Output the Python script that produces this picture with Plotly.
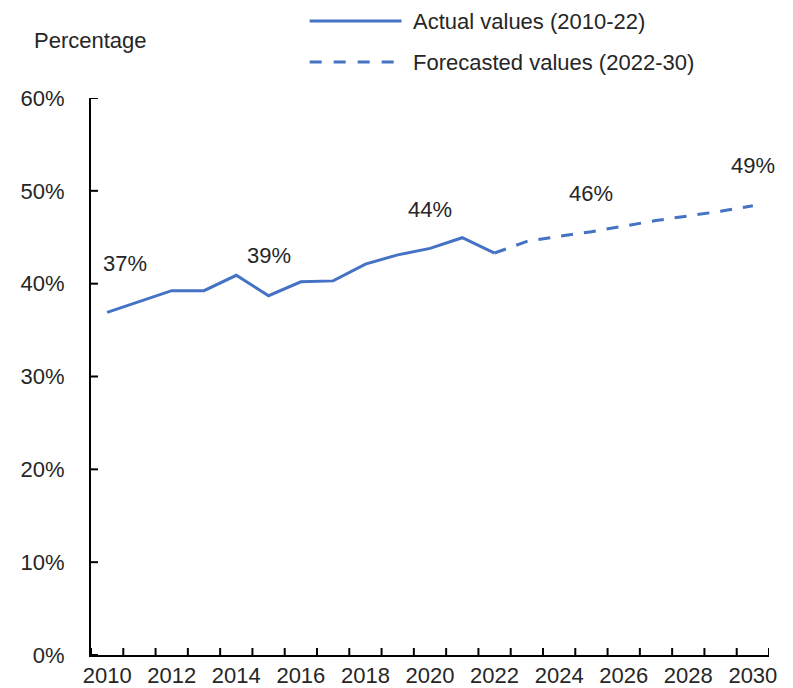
import plotly.graph_objects as go

# ---- data ----
actual_years = list(range(2010, 2023))
actual_values = [36.9, 38.1, 39.25, 39.25, 40.9, 38.7, 40.2, 40.3, 42.1, 43.1, 43.8, 44.95, 43.3]

forecast_years = list(range(2022, 2031))
forecast_values = [43.3, 44.55, 45.1, 45.6, 46.2, 46.8, 47.3, 47.8, 48.4]

label_years = [2010, 2015, 2020, 2025, 2030]
label_texts = ["37%", "39%", "44%", "46%", "49%"]

y_ticks = [0, 10, 20, 30, 40, 50, 60]
y_tick_labels = ["0%", "10%", "20%", "30%", "40%", "50%", "60%"]
x_first_label, x_label_step = 2010, 2

legend_names = ["Actual values (2010-22)", "Forecasted values (2022-30)"]
y_title = "Percentage"

# label placement (pixels)
label_yshift = [49, 40, 39, 38, 40]
label_xshift = [18, 0, 0, 0, 0]

BLUE = "#4472C4"
TXT = "#262626"
FONT = "Liberation Sans, Arial, sans-serif"
FS = 22

all_years = sorted(set(actual_years) | set(forecast_years))
X_RANGE = [all_years[0] - 0.5, all_years[-1] + 0.5]
Y_RANGE = [y_ticks[0], y_ticks[-1]]

W, H = 785, 680
M = dict(l=83, r=24, t=90, b=33)
plot_w = W - M["l"] - M["r"]
plot_h = H - M["t"] - M["b"]
TICK_PX = 7
tick_dy = TICK_PX * (Y_RANGE[1] - Y_RANGE[0]) / plot_h
tick_dx = TICK_PX * (X_RANGE[1] - X_RANGE[0]) / plot_w

fig = go.Figure()
fig.add_trace(go.Scatter(x=actual_years, y=actual_values, mode="lines",
                         line=dict(color=BLUE, width=3), name=legend_names[0],
                         showlegend=False))
fig.add_trace(go.Scatter(x=forecast_years, y=forecast_values, mode="lines",
                         line=dict(color=BLUE, width=3, dash="12px,11px"),
                         name=legend_names[1], showlegend=False))

lookup = dict(zip(actual_years, actual_values))
lookup.update(dict(zip(forecast_years, forecast_values)))

annotations = []
for yr, txt, ys, xs in zip(label_years, label_texts, label_yshift, label_xshift):
    annotations.append(dict(x=yr, y=lookup[yr], xref="x", yref="y", text=txt,
                            showarrow=False, yshift=ys, xshift=xs,
                            font=dict(family=FONT, size=FS, color=TXT)))

# y-axis title
annotations.append(dict(x=-0.087, y=1.104, xref="paper", yref="paper", text=y_title,
                        showarrow=False, xanchor="left", yanchor="middle",
                        font=dict(family=FONT, size=FS, color=TXT)))

shapes = []
# inside tick marks: x at category boundaries, y at value ticks
for b in [yr - 0.5 for yr in all_years] + [all_years[-1] + 0.5]:
    shapes.append(dict(type="line", xref="x", yref="y", x0=b, x1=b,
                       y0=Y_RANGE[0], y1=Y_RANGE[0] + tick_dy,
                       line=dict(color="black", width=2)))
for v in y_ticks:
    shapes.append(dict(type="line", xref="x", yref="y", x0=X_RANGE[0],
                       x1=X_RANGE[0] + tick_dx, y0=v, y1=v,
                       line=dict(color="black", width=2)))

# custom legend
leg_rows = [1.1382, 1.0646]
for i, (name, yrow) in enumerate(zip(legend_names, leg_rows)):
    shapes.append(dict(type="line", xref="paper", yref="paper",
                       x0=0.3225, x1=0.458, y0=yrow, y1=yrow,
                       line=dict(color=BLUE, width=3,
                                 dash="solid" if i == 0 else "12px,12px")))
    annotations.append(dict(x=0.4723, y=yrow, xref="paper", yref="paper", text=name,
                            showarrow=False, xanchor="left", yanchor="middle",
                            font=dict(family=FONT, size=FS, color=TXT)))

fig.update_layout(
    width=W, height=H,
    margin=dict(**M, autoexpand=False),
    paper_bgcolor="white", plot_bgcolor="white",
    font=dict(family=FONT, size=FS, color=TXT),
    annotations=annotations, shapes=shapes,
    showlegend=False,
)
fig.update_xaxes(range=X_RANGE, tickmode="linear", tick0=x_first_label,
                 dtick=x_label_step, tickformat="d", ticks="",
                 showgrid=False, zeroline=False, automargin=False,
                 showline=True, linecolor="black", linewidth=2,
                 tickfont=dict(family=FONT, size=FS, color=TXT))
fig.update_yaxes(range=Y_RANGE, tickmode="array", tickvals=y_ticks, ticktext=y_tick_labels,
                 ticks="", showgrid=False, zeroline=False, automargin=False,
                 showline=True, linecolor="black", linewidth=2,
                 ticklabelstandoff=20,
                 tickfont=dict(family=FONT, size=FS, color=TXT))

fig.write_html("out.html")
